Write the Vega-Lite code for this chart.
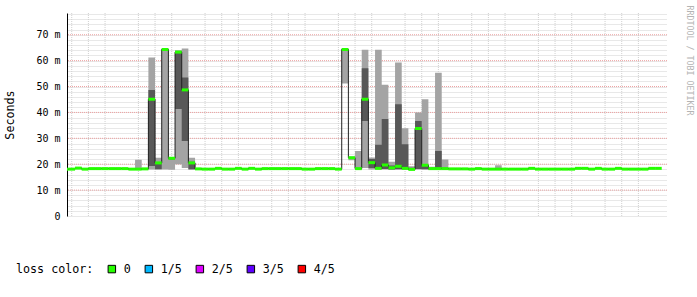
{
"$schema": "https://vega.github.io/schema/vega-lite/v6.json",
"width": 600,
"height": 203,
"autosize": {"type": "none"},
"padding": {"left": 67, "top": 13, "right": 30, "bottom": 81},
"background": "white",
"config": {"view": {"stroke": null}, "font": "DejaVu Sans Mono"},
"datasets": {
"steps": [
{"m":22,"m2":24,"p1":17.9,"p2":18.0,"p3":18.1,"p4":18.2,"p5":18.4,"loss":"0"},
{"m":24,"m2":26,"p1":17.9,"p2":18.0,"p3":18.1,"p4":18.2,"p5":18.4,"loss":"0"},
{"m":26,"m2":28,"p1":18.3,"p2":18.4,"p3":18.5,"p4":18.6,"p5":18.8,"loss":"0"},
{"m":28,"m2":30,"p1":17.9,"p2":18.0,"p3":18.1,"p4":18.2,"p5":18.4,"loss":"0"},
{"m":30,"m2":32,"p1":18.1,"p2":18.2,"p3":18.3,"p4":18.4,"p5":18.6,"loss":"0"},
{"m":32,"m2":34,"p1":18.1,"p2":18.2,"p3":18.3,"p4":18.4,"p5":18.6,"loss":"0"},
{"m":34,"m2":36,"p1":18.1,"p2":18.2,"p3":18.3,"p4":18.4,"p5":18.6,"loss":"0"},
{"m":36,"m2":38,"p1":18.1,"p2":18.2,"p3":18.3,"p4":18.4,"p5":18.6,"loss":"0"},
{"m":38,"m2":40,"p1":18.1,"p2":18.2,"p3":18.3,"p4":18.4,"p5":18.6,"loss":"0"},
{"m":40,"m2":42,"p1":18.1,"p2":18.2,"p3":18.3,"p4":18.4,"p5":18.6,"loss":"0"},
{"m":42,"m2":44,"p1":17.9,"p2":18.0,"p3":18.1,"p4":18.2,"p5":18.4,"loss":"0"},
{"m":44,"m2":46,"p1":17.9,"p2":18.0,"p3":18.1,"p4":18.3,"p5":21.7,"loss":"0"},
{"m":46,"m2":48,"p1":18.0,"p2":18.1,"p3":18.2,"p4":18.3,"p5":18.5,"loss":"0"},
{"m":48,"m2":50,"p1":18.0,"p2":19.3,"p3":45.1,"p4":48.7,"p5":61.2,"loss":"0"},
{"m":50,"m2":52,"p1":18.0,"p2":18.1,"p3":20.5,"p4":20.8,"p5":22.5,"loss":"0"},
{"m":52,"m2":54,"p1":18.0,"p2":64.0,"p3":64.3,"p4":64.5,"p5":64.7,"loss":"0"},
{"m":54,"m2":56,"p1":17.9,"p2":21.8,"p3":22.3,"p4":22.6,"p5":22.8,"loss":"0"},
{"m":56,"m2":58,"p1":20.0,"p2":41.3,"p3":63.3,"p4":63.7,"p5":64.0,"loss":"0"},
{"m":58,"m2":60,"p1":18.5,"p2":29.0,"p3":48.7,"p4":53.5,"p5":64.7,"loss":"0"},
{"m":60,"m2":62,"p1":17.9,"p2":18.1,"p3":20.5,"p4":21.0,"p5":22.5,"loss":"0"},
{"m":62,"m2":64,"p1":18.0,"p2":18.1,"p3":18.2,"p4":18.3,"p5":18.5,"loss":"0"},
{"m":64,"m2":66,"p1":17.9,"p2":18.0,"p3":18.1,"p4":18.2,"p5":18.4,"loss":"0"},
{"m":66,"m2":68,"p1":17.9,"p2":18.0,"p3":18.1,"p4":18.2,"p5":18.4,"loss":"0"},
{"m":68,"m2":70,"p1":18.2,"p2":18.3,"p3":18.4,"p4":18.5,"p5":18.7,"loss":"0"},
{"m":70,"m2":72,"p1":17.9,"p2":18.0,"p3":18.1,"p4":18.2,"p5":18.4,"loss":"0"},
{"m":72,"m2":74,"p1":17.9,"p2":18.0,"p3":18.1,"p4":18.2,"p5":18.4,"loss":"0"},
{"m":74,"m2":76,"p1":18.2,"p2":18.3,"p3":18.4,"p4":18.5,"p5":18.7,"loss":"0"},
{"m":76,"m2":78,"p1":17.9,"p2":18.0,"p3":18.1,"p4":18.2,"p5":18.4,"loss":"0"},
{"m":78,"m2":80,"p1":18.2,"p2":18.3,"p3":18.4,"p4":18.5,"p5":18.7,"loss":"0"},
{"m":80,"m2":82,"p1":17.9,"p2":18.0,"p3":18.1,"p4":18.2,"p5":18.4,"loss":"0"},
{"m":82,"m2":84,"p1":18.1,"p2":18.2,"p3":18.3,"p4":18.4,"p5":18.6,"loss":"0"},
{"m":84,"m2":86,"p1":18.1,"p2":18.2,"p3":18.3,"p4":18.4,"p5":18.6,"loss":"0"},
{"m":86,"m2":88,"p1":18.1,"p2":18.2,"p3":18.3,"p4":18.4,"p5":18.6,"loss":"0"},
{"m":88,"m2":90,"p1":18.1,"p2":18.2,"p3":18.3,"p4":18.4,"p5":18.6,"loss":"0"},
{"m":90,"m2":92,"p1":18.1,"p2":18.2,"p3":18.3,"p4":18.4,"p5":18.6,"loss":"0"},
{"m":92,"m2":94,"p1":18.1,"p2":18.2,"p3":18.3,"p4":18.4,"p5":18.6,"loss":"0"},
{"m":94,"m2":96,"p1":17.9,"p2":18.0,"p3":18.1,"p4":18.2,"p5":18.4,"loss":"0"},
{"m":96,"m2":98,"p1":17.9,"p2":18.0,"p3":18.1,"p4":18.2,"p5":18.4,"loss":"0"},
{"m":98,"m2":100,"p1":18.1,"p2":18.2,"p3":18.3,"p4":18.4,"p5":18.6,"loss":"0"},
{"m":100,"m2":102,"p1":18.1,"p2":18.2,"p3":18.3,"p4":18.4,"p5":18.6,"loss":"0"},
{"m":102,"m2":104,"p1":18.1,"p2":18.2,"p3":18.3,"p4":18.4,"p5":18.6,"loss":"0"},
{"m":104,"m2":106,"p1":17.9,"p2":18.0,"p3":18.1,"p4":18.2,"p5":18.4,"loss":"0"},
{"m":106,"m2":108,"p1":51.2,"p2":64.0,"p3":64.3,"p4":64.5,"p5":64.7,"loss":"0"},
{"m":108,"m2":110,"p1":21.5,"p2":22.3,"p3":22.5,"p4":22.7,"p5":23.0,"loss":"0"},
{"m":110,"m2":112,"p1":18.0,"p2":18.1,"p3":18.3,"p4":18.5,"p5":25.1,"loss":"0"},
{"m":112,"m2":114,"p1":18.5,"p2":36.7,"p3":45.1,"p4":57.1,"p5":64.2,"loss":"0"},
{"m":114,"m2":116,"p1":18.0,"p2":18.5,"p3":20.6,"p4":22.0,"p5":22.6,"loss":"0"},
{"m":116,"m2":118,"p1":18.0,"p2":18.2,"p3":18.4,"p4":27.5,"p5":64.2,"loss":"0"},
{"m":118,"m2":120,"p1":18.0,"p2":18.2,"p3":19.7,"p4":37.5,"p5":50.7,"loss":"0"},
{"m":120,"m2":122,"p1":17.9,"p2":18.0,"p3":18.6,"p4":19.5,"p5":21.0,"loss":"0"},
{"m":122,"m2":124,"p1":18.0,"p2":18.1,"p3":19.2,"p4":43.2,"p5":59.3,"loss":"0"},
{"m":124,"m2":126,"p1":18.0,"p2":18.1,"p3":18.4,"p4":27.7,"p5":33.9,"loss":"0"},
{"m":126,"m2":128,"p1":17.8,"p2":17.9,"p3":18.0,"p4":18.6,"p5":19.2,"loss":"0"},
{"m":128,"m2":130,"p1":18.0,"p2":18.2,"p3":33.8,"p4":36.7,"p5":40.0,"loss":"0"},
{"m":130,"m2":132,"p1":18.0,"p2":18.1,"p3":19.6,"p4":19.9,"p5":45.1,"loss":"0"},
{"m":132,"m2":134,"p1":17.9,"p2":18.0,"p3":18.3,"p4":18.5,"p5":19.0,"loss":"0"},
{"m":134,"m2":136,"p1":18.0,"p2":18.1,"p3":18.3,"p4":25.1,"p5":55.3,"loss":"0"},
{"m":136,"m2":138,"p1":18.0,"p2":18.1,"p3":18.3,"p4":18.6,"p5":21.8,"loss":"0"},
{"m":138,"m2":140,"p1":18.0,"p2":18.1,"p3":18.2,"p4":18.3,"p5":18.5,"loss":"0"},
{"m":140,"m2":142,"p1":18.0,"p2":18.1,"p3":18.2,"p4":18.3,"p5":18.5,"loss":"0"},
{"m":142,"m2":144,"p1":18.0,"p2":18.1,"p3":18.2,"p4":18.3,"p5":18.5,"loss":"0"},
{"m":144,"m2":146,"p1":17.9,"p2":18.0,"p3":18.1,"p4":18.2,"p5":18.4,"loss":"0"},
{"m":146,"m2":148,"p1":18.1,"p2":18.2,"p3":18.3,"p4":18.4,"p5":18.6,"loss":"0"},
{"m":148,"m2":150,"p1":17.9,"p2":18.0,"p3":18.1,"p4":18.2,"p5":18.4,"loss":"0"},
{"m":150,"m2":152,"p1":17.9,"p2":18.0,"p3":18.1,"p4":18.2,"p5":18.4,"loss":"0"},
{"m":152,"m2":154,"p1":18.0,"p2":18.0,"p3":18.1,"p4":18.3,"p5":19.6,"loss":"0"},
{"m":154,"m2":156,"p1":17.9,"p2":18.0,"p3":18.1,"p4":18.2,"p5":18.4,"loss":"0"},
{"m":156,"m2":158,"p1":17.9,"p2":18.0,"p3":18.1,"p4":18.2,"p5":18.4,"loss":"0"},
{"m":158,"m2":160,"p1":17.9,"p2":18.0,"p3":18.1,"p4":18.2,"p5":18.4,"loss":"0"},
{"m":160,"m2":162,"p1":17.9,"p2":18.0,"p3":18.1,"p4":18.2,"p5":18.4,"loss":"0"},
{"m":162,"m2":164,"p1":18.2,"p2":18.3,"p3":18.4,"p4":18.5,"p5":18.7,"loss":"0"},
{"m":164,"m2":166,"p1":17.9,"p2":18.0,"p3":18.1,"p4":18.2,"p5":18.4,"loss":"0"},
{"m":166,"m2":168,"p1":17.9,"p2":18.0,"p3":18.1,"p4":18.2,"p5":18.4,"loss":"0"},
{"m":168,"m2":170,"p1":17.9,"p2":18.0,"p3":18.1,"p4":18.2,"p5":18.4,"loss":"0"},
{"m":170,"m2":172,"p1":17.9,"p2":18.0,"p3":18.1,"p4":18.2,"p5":18.4,"loss":"0"},
{"m":172,"m2":174,"p1":17.9,"p2":18.0,"p3":18.1,"p4":18.2,"p5":18.4,"loss":"0"},
{"m":174,"m2":176,"p1":17.9,"p2":18.0,"p3":18.1,"p4":18.2,"p5":18.4,"loss":"0"},
{"m":176,"m2":178,"p1":18.2,"p2":18.3,"p3":18.4,"p4":18.5,"p5":18.7,"loss":"0"},
{"m":178,"m2":180,"p1":18.2,"p2":18.3,"p3":18.4,"p4":18.5,"p5":18.7,"loss":"0"},
{"m":180,"m2":182,"p1":17.9,"p2":18.0,"p3":18.1,"p4":18.2,"p5":18.4,"loss":"0"},
{"m":182,"m2":184,"p1":18.2,"p2":18.3,"p3":18.4,"p4":18.5,"p5":18.7,"loss":"0"},
{"m":184,"m2":186,"p1":17.9,"p2":18.0,"p3":18.1,"p4":18.2,"p5":18.4,"loss":"0"},
{"m":186,"m2":188,"p1":17.9,"p2":18.0,"p3":18.1,"p4":18.2,"p5":18.4,"loss":"0"},
{"m":188,"m2":190,"p1":18.2,"p2":18.3,"p3":18.4,"p4":18.5,"p5":18.7,"loss":"0"},
{"m":190,"m2":192,"p1":17.9,"p2":18.0,"p3":18.1,"p4":18.2,"p5":18.4,"loss":"0"},
{"m":192,"m2":194,"p1":17.9,"p2":18.0,"p3":18.1,"p4":18.2,"p5":18.4,"loss":"0"},
{"m":194,"m2":196,"p1":17.9,"p2":18.0,"p3":18.1,"p4":18.2,"p5":18.4,"loss":"0"},
{"m":196,"m2":198,"p1":17.9,"p2":18.0,"p3":18.1,"p4":18.2,"p5":18.4,"loss":"0"},
{"m":198,"m2":200,"p1":18.2,"p2":18.3,"p3":18.4,"p4":18.5,"p5":18.7,"loss":"0"},
{"m":200,"m2":202,"p1":18.2,"p2":18.3,"p3":18.4,"p4":18.5,"p5":18.7,"loss":"0"}
],
"xminor": [
{"g":25},{"g":30},{"g":35},{"g":45},{"g":50},{"g":55},{"g":65},{"g":70},{"g":75},
{"g":85},{"g":90},{"g":95},{"g":105},{"g":110},{"g":115},{"g":125},{"g":130},{"g":135},
{"g":145},{"g":150},{"g":155},{"g":165},{"g":170},{"g":175},{"g":185},{"g":190},{"g":195}
],
"ymajor": [
{"v":10},{"v":20},{"v":30},{"v":40},{"v":50},{"v":60},{"v":70}
]
},
"layer": [
  {
    "data": {"name": "xminor"},
    "mark": {"type": "rule", "color": "#d0d0d0", "strokeWidth": 1, "strokeDash": [1, 1]},
    "encoding": {
      "x": {
        "field": "g", "type": "quantitative",
        "scale": {"domain": [23.583, 203.583], "nice": false, "zero": false},
        "axis": {
          "values": [40, 60, 80, 100, 120, 140, 160, 180, 200],
          "labelExpr": "(floor(datum.value / 60) + 16) + ':' + (datum.value % 60 === 0 ? '00' : '' + (datum.value % 60))",
          "labelFont": "DejaVu Sans Mono",
          "labelFontSize": 10,
          "labelColor": "black",
          "labelPadding": 3,
          "labelOverlap": false,
          "labelFlush": false,
          "labelBound": false,
          "grid": true,
          "gridColor": "#eea0a0",
          "gridDash": [1, 1],
          "ticks": false,
          "domainColor": "black",
          "title": [
            "median\u00a0rtt:\u00a0\u00a021.0\u00a0ms\u00a0avg\u00a0\u00a064.4\u00a0ms\u00a0max\u00a0\u00a017.9\u00a0ms\u00a0min\u00a0\u00a018.1\u00a0ms\u00a0now\u00a0\u00a0\u00a09.6\u00a0ms\u00a0sd\u00a0\u00a02.2\u00a0\u00a0\u00a0am/s",
            "packet\u00a0loss:\u00a00.00\u00a0%\u00a0avg\u00a0\u00a00.00\u00a0%\u00a0max\u00a0\u00a00.00\u00a0%\u00a0min\u00a0\u00a0\u00a00.00\u00a0%\u00a0now",
            "\u00a0",
            "probe:\u00a0\u00a0\u00a0\u00a0\u00a0\u00a0\u00a05\u00a0ICMP\u00a0Echo\u00a0Pings\u00a0(56\u00a0Bytes)\u00a0every\u00a0120s\u00a0\u00a0\u00a0\u00a0\u00a0\u00a0\u00a0\u00a0\u00a0\u00a0\u00a0\u00a0\u00a0\u00a0end:\u00a0Fri\u00a0Jul\u00a018\u00a019:23:35\u00a02025"
          ],
          "titleFont": "DejaVu Sans Mono",
          "titleFontSize": 11.7,
          "titleFontWeight": "normal",
          "titleColor": "black",
          "titleAlign": "left",
          "titleBaseline": "top",
          "titleLineHeight": 14.1,
          "titleX": -51,
          "titleY": 19
        }
      }
    }
  },
  {
    "data": {"name": "ymajor"},
    "mark": {"type": "rule", "color": "#eea0a0", "strokeWidth": 1, "strokeDash": [1, 1]},
    "encoding": {
      "y": {
        "field": "v", "type": "quantitative",
        "scale": {"domain": [0, 78.4], "nice": false},
        "axis": {
          "orient": "left",
          "title": "Seconds",
          "values": [0,2,4,6,8,10,12,14,16,18,20,22,24,26,28,30,32,34,36,38,40,42,44,46,48,50,52,54,56,58,60,62,64,66,68,70,72,74,76,78],
          "labelExpr": "datum.value % 10 === 0 ? (datum.value === 0 ? '0' : datum.value + ' m') : ''",
          "labelFont": "DejaVu Sans Mono",
          "labelFontSize": 10,
          "labelColor": "black",
          "labelPadding": 7,
          "labelOverlap": false,
          "labelBound": false,
          "grid": true,
          "gridColor": "#d0d0d0",
          "gridDash": [1, 1],
          "ticks": false,
          "domainColor": "black",
          "titleFont": "DejaVu Sans Mono",
          "titleFontSize": 11.7,
          "titleFontWeight": "normal",
          "titleColor": "black",
          "titlePadding": 20
        }
      }
    }
  },
  {
    "data": {"name": "steps"},
    "mark": {"type": "area", "interpolate": "step-after", "color": "#a4a4a4", "clip": true},
    "encoding": {
      "x": {"field": "m", "type": "quantitative", "axis": null},
      "y": {"field": "p1", "type": "quantitative", "axis": null},
      "y2": {"field": "p5"}
    }
  },
  {
    "data": {"name": "steps"},
    "mark": {"type": "area", "interpolate": "step-after", "color": "#585858", "clip": true},
    "encoding": {
      "x": {"field": "m", "type": "quantitative", "axis": null},
      "y": {"field": "p2", "type": "quantitative", "axis": null},
      "y2": {"field": "p4"}
    }
  },
  {
    "data": {"name": "steps"},
    "mark": {"type": "line", "interpolate": "step-after", "color": "#202020", "strokeWidth": 1, "clip": true},
    "encoding": {
      "x": {"field": "m", "type": "quantitative", "axis": null},
      "y": {
        "field": "p3", "type": "quantitative",
        "axis": {
          "orient": "right",
          "title": "RRDTOOL / TOBI OETIKER",
          "labels": false, "ticks": false, "domain": false, "grid": false,
          "titleFont": "DejaVu Sans Mono",
          "titleFontSize": 8.3,
          "titleFontWeight": "normal",
          "titleColor": "#b4b4b4",
          "titleAngle": 90,
          "titleX": 21,
          "titleY": -8,
          "titleAlign": "left",
          "titleBaseline": "middle"
        }
      }
    }
  },
  {
    "data": {"name": "steps"},
    "mark": {"type": "rule", "strokeWidth": 3, "color": "#26ff00", "clip": true},
    "encoding": {
      "x": {"field": "m", "type": "quantitative", "axis": null},
      "x2": {"field": "m2"},
      "y": {"field": "p3", "type": "quantitative", "axis": null}
    }
  },
  {
    "data": {"name": "steps"},
    "mark": {"type": "square", "opacity": 0, "filled": true, "clip": true},
    "encoding": {
      "x": {"field": "m", "type": "quantitative", "axis": null},
      "y": {"field": "p3", "type": "quantitative", "axis": null},
      "color": {
        "field": "loss", "type": "nominal",
        "scale": {"domain": ["0", "1/5", "2/5", "3/5", "4/5"], "range": ["#26ff00", "#00b8ff", "#dd00ff", "#5e00ff", "#ff0000"]},
        "legend": {
          "orient": "none",
          "legendX": -51,
          "legendY": 250,
          "direction": "horizontal",
          "columns": 5,
          "title": "loss color:",
          "titleOrient": "left",
          "titleFont": "DejaVu Sans Mono",
          "titleFontSize": 11.7,
          "titleFontWeight": "normal",
          "titleColor": "black",
          "titlePadding": 12,
          "labelFont": "DejaVu Sans Mono",
          "labelFontSize": 11.7,
          "labelColor": "black",
          "labelOffset": 6,
          "symbolType": "square",
          "symbolSize": 56,
          "symbolOpacity": 1,
          "symbolStrokeColor": "black",
          "symbolStrokeWidth": 1,
          "columnPadding": 12,
          "padding": 0
        }
      }
    }
  }
],
"resolve": {"axis": {"y": "independent"}}
}
